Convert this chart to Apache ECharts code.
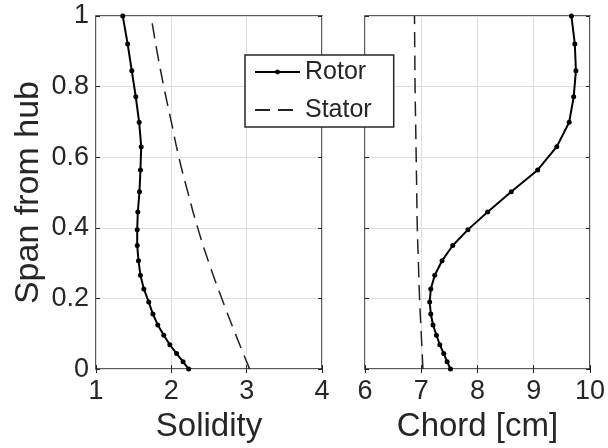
<!doctype html>
<html>
<head>
<meta charset="utf-8">
<title>Solidity and chord</title>
<script src="https://cdn.jsdelivr.net/npm/echarts@6/dist/echarts.min.js"></script>
<style>
    body{margin: 0; background: #fff;}
    #main{width: 608px; height: 448px;}
</style>
</head>
<body>
<div id="main"></div>
<script>
    // span positions of the rotor points (hub = 0, tip = 1)
    var rotorSpan = [1.0, 0.921, 0.845, 0.771, 0.699, 0.630, 0.564, 0.502, 0.445, 0.395, 0.350,
                     0.307, 0.266, 0.227, 0.190, 0.156, 0.125, 0.096, 0.069, 0.044, 0.021, 0.0];
    var rotorSolidity = [1.355, 1.42, 1.475, 1.528, 1.573, 1.60, 1.59, 1.577, 1.555, 1.547, 1.547,
                         1.564, 1.59, 1.635, 1.70, 1.755, 1.82, 1.90, 1.98, 2.07, 2.155, 2.23];
    var rotorChord = [9.67, 9.73, 9.75, 9.71, 9.63, 9.41, 9.07, 8.60, 8.18, 7.83, 7.56,
                      7.37, 7.24, 7.17, 7.15, 7.17, 7.21, 7.27, 7.33, 7.40, 7.46, 7.52];

    var statorSpan = [0, 0.1, 0.2, 0.3, 0.4, 0.5, 0.6, 0.7, 0.8, 0.9, 1.0];
    var statorSolidity = [3.04, 2.85, 2.67, 2.50, 2.35, 2.22, 2.10, 2.00, 1.90, 1.81, 1.73];
    var statorChord = [7.03, 7.00, 6.97, 6.95, 6.93, 6.92, 6.91, 6.90, 6.89, 6.885, 6.88];

    var seriesNames = ['Rotor', 'Stator'];

    function pairs(xs, ys){
        var out = [];
        for (var i = 0; i < xs.length; i++) out.push([xs[i], ys[i]]);
        return out;
    }

    var textColor = '#262626';
    var font = 'Liberation Sans, Arial, sans-serif';

    function xAx(idx, min, max, name, pos){
        var main = pos === 'bottom';
        return {
            type: 'value', gridIndex: idx, min: min, max: max, interval: 1, position: pos,
            name: main ? name : '', nameLocation: 'middle', nameGap: 38,
            nameTextStyle: {color: textColor, fontSize: 33, fontFamily: font},
            axisLine: {show: false},
            axisTick: {show: true, inside: true, length: 4, lineStyle: {color: '#262626'}},
            axisLabel: {show: main, color: textColor, fontSize: 27, fontFamily: font, margin: 9},
            splitLine: {show: main, lineStyle: {color: '#dedede', width: 1}}
        };
    }
    function yAx(idx, pos, showLabel){
        return {
            type: 'value', gridIndex: idx, min: 0, max: 1, interval: 0.2, position: pos,
            name: showLabel ? 'Span from hub' : '', nameLocation: 'middle', nameGap: 50,
            nameTextStyle: {color: textColor, fontSize: 34, fontFamily: font},
            axisLine: {show: false},
            axisTick: {show: true, inside: true, length: 4, lineStyle: {color: '#262626'}},
            axisLabel: {show: showLabel, color: textColor, fontSize: 27, fontFamily: font, margin: 7},
            splitLine: {show: pos === 'left', lineStyle: {color: '#dedede', width: 1}}
        };
    }

    var myChart = echarts.init(document.getElementById('main'), null, {renderer: 'canvas'});
    var option = {
        backgroundColor: '#fff',
        animation: false,
        grid: [
            {left: 96, right: 286, top: 16, bottom: 74, show: true, borderColor: '#262626', borderWidth: 1.5},
            {left: 365, right: 18, top: 16, bottom: 74, show: true, borderColor: '#262626', borderWidth: 1.5}
        ],
        xAxis: [
            xAx(0, 1, 4, 'Solidity', 'bottom'),
            xAx(1, 6, 10, 'Chord [cm]', 'bottom'),
            xAx(0, 1, 4, '', 'top'),
            xAx(1, 6, 10, '', 'top')
        ],
        yAxis: [
            yAx(0, 'left', true),
            yAx(1, 'left', false),
            yAx(0, 'right', false),
            yAx(1, 'right', false)
        ],
        legend: {
            data: seriesNames,
            orient: 'vertical',
            left: 245, top: 55,
            padding: [3, 22, 3, 9],
            itemGap: 10,
            itemWidth: 45, itemHeight: 6,
            backgroundColor: '#fff',
            borderColor: '#262626', borderWidth: 1.5,
            textStyle: {color: textColor, fontSize: 25, fontFamily: font, lineHeight: 28}
        },
        series: [
            {
                name: 'Rotor', type: 'line', xAxisIndex: 0, yAxisIndex: 0,
                data: pairs(rotorSolidity, rotorSpan),
                symbol: 'circle', symbolSize: 5,
                itemStyle: {color: '#000'},
                lineStyle: {color: '#000', width: 2}
            },
            {
                name: 'Stator', type: 'line', xAxisIndex: 0, yAxisIndex: 0,
                data: pairs(statorSolidity, statorSpan),
                symbol: 'none', smooth: true,
                itemStyle: {color: 'rgba(0,0,0,0)'},
                lineStyle: {color: '#222', width: 1.5, type: [15, 8]}
            },
            {
                name: 'Rotor', type: 'line', xAxisIndex: 1, yAxisIndex: 1,
                data: pairs(rotorChord, rotorSpan),
                symbol: 'circle', symbolSize: 5,
                itemStyle: {color: '#000'},
                lineStyle: {color: '#000', width: 2}
            },
            {
                name: 'Stator', type: 'line', xAxisIndex: 1, yAxisIndex: 1,
                data: pairs(statorChord, statorSpan),
                symbol: 'none', smooth: true,
                itemStyle: {color: 'rgba(0,0,0,0)'},
                lineStyle: {color: '#222', width: 1.5, type: [15, 8]}
            }
        ]
    };
    myChart.setOption(option);
</script>
</body>
</html>
